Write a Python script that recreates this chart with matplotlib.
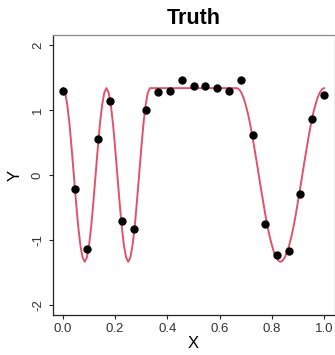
import numpy as np
import matplotlib
matplotlib.use("Agg")
import matplotlib.pyplot as plt

plt.rcParams['font.family'] = ['Liberation Sans', 'DejaVu Sans']

# observed points
x_pts = [0.000, 0.045, 0.091, 0.136, 0.182, 0.227, 0.273, 0.318, 0.364, 0.409,
         0.455, 0.500, 0.545, 0.591, 0.636, 0.682, 0.727, 0.773, 0.818, 0.864,
         0.909, 0.955, 1.000]
y_pts = [1.29, -0.215, -1.14, 0.56, 1.14, -0.71, -0.84, 1.01, 1.28, 1.30,
         1.47, 1.38, 1.38, 1.35, 1.29, 1.47, 0.61, -0.76, -1.23, -1.18,
         -0.30, 0.86, 1.24]

# truth curve, read at x = 0, 1/120, ..., 1
curve_x = np.linspace(0, 1, 121)
curve_y = [
    1.34, 1.27, 1.08, 0.79, 0.41, 0.00, -0.41, -0.79, -1.08, -1.27,
    -1.34, -1.27, -1.08, -0.79, -0.41, 0.00, 0.41, 0.79, 1.08, 1.27,
    1.34, 1.27, 1.08, 0.79, 0.41, 0.00, -0.41, -0.79, -1.08, -1.27,
    -1.34, -1.27, -1.08, -0.79, -0.41, 0.00, 0.41, 0.79, 1.08, 1.27,
    1.34, 1.34, 1.34, 1.34, 1.34, 1.34, 1.34, 1.34, 1.34, 1.34,
    1.34, 1.34, 1.34, 1.34, 1.34, 1.34, 1.34, 1.34, 1.34, 1.34,
    1.34, 1.34, 1.34, 1.34, 1.34, 1.34, 1.34, 1.34, 1.34, 1.34,
    1.34, 1.34, 1.34, 1.34, 1.34, 1.34, 1.34, 1.34, 1.34, 1.34,
    1.34, 1.32, 1.27, 1.19, 1.08, 0.95, 0.79, 0.61, 0.41, 0.21,
    0.00, -0.21, -0.41, -0.61, -0.79, -0.95, -1.08, -1.19, -1.27, -1.32,
    -1.34, -1.32, -1.27, -1.19, -1.08, -0.95, -0.79, -0.61, -0.41, -0.21,
    0.00, 0.21, 0.41, 0.61, 0.79, 0.95, 1.08, 1.19, 1.27, 1.32,
    1.34,
]

x_ticks = [0.0, 0.2, 0.4, 0.6, 0.8, 1.0]
x_ticklabels = ["0.0", "0.2", "0.4", "0.6", "0.8", "1.0"]
y_ticks = [-2, -1, 0, 1, 2]
y_ticklabels = ["-2", "-1", "0", "1", "2"]

fig = plt.figure(figsize=(3.35, 3.55), dpi=100)
ax = fig.add_axes([52.5 / 335, 40 / 355, (334.5 - 52.5) / 335, 280 / 355])

ax.plot(curve_x, curve_y, color='#DF536B', lw=1.4, zorder=2)
ax.plot(x_pts, y_pts, 'o', color='black', markersize=5, zorder=3)

ax.set_xlim(-0.04, 1.04)
ax.set_ylim(-2.16, 2.16)
ax.set_xticks(x_ticks)
ax.set_xticklabels(x_ticklabels)
ax.set_yticks(y_ticks)
ax.set_yticklabels(y_ticklabels, rotation=90, va='center')
ax.tick_params(direction='out', length=3.2, width=0.8, labelsize=9.5, pad=2.5, colors='#222222')
ax.tick_params(axis='x', labelcolor='#333333')
ax.tick_params(axis='y', labelcolor='#333333', pad=3)

for s in ['left', 'bottom']:
    ax.spines[s].set_color('#222222')
    ax.spines[s].set_linewidth(0.9)
for s in ['top', 'right']:
    ax.spines[s].set_color('#888888')
    ax.spines[s].set_linewidth(0.9)

ax.set_xlabel("X", fontsize=12, labelpad=1)
ax.set_ylabel("Y", fontsize=12, labelpad=7)
ax.set_title("Truth", fontsize=15.5, fontweight='bold', pad=8)

fig.savefig("out.png", dpi=100)
